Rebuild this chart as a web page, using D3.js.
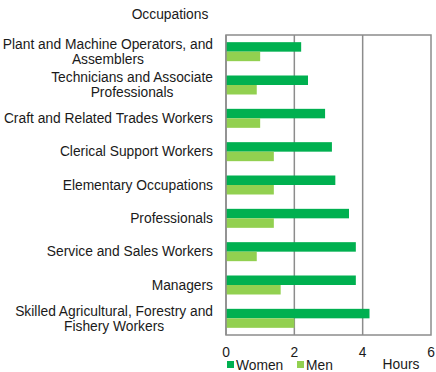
<!DOCTYPE html>
<html>
<head>
<meta charset="utf-8">
<script src="https://cdn.jsdelivr.net/npm/d3@7"></script>
<style>
  html, body { margin: 0; padding: 0; background: #fff; }
  svg { display: block; font-family: "Liberation Sans", Arial, sans-serif; }
</style>
</head>
<body>
<svg id="chart" width="436" height="372"></svg>
<script>
// Occupations, top to bottom, each split into display lines
const occupations = [
  ["Plant and Machine Operators, and", "Assemblers"],
  ["Technicians and Associate", "Professionals"],
  ["Craft and Related Trades Workers"],
  ["Clerical Support Workers"],
  ["Elementary Occupations"],
  ["Professionals"],
  ["Service and Sales Workers"],
  ["Managers"],
  ["Skilled Agricultural, Forestry and", "Fishery Workers"]
];
const women = [2.2, 2.4, 2.9, 3.1, 3.2, 3.6, 3.8, 3.8, 4.2];
const men   = [1.0, 0.9, 1.0, 1.4, 1.4, 1.4, 0.9, 1.6, 2.0];
const seriesNames = ["Women", "Men"];
const seriesColors = ["#00b050", "#92d050"];
const xTicks = [0, 2, 4, 6];

const svg = d3.select("#chart");
const plot = { left: 226, right: 431, top: 35, bottom: 335 };

const x = d3.scaleLinear().domain([0, 6]).range([plot.left, plot.right]);
const y = d3.scaleBand().domain(d3.range(occupations.length))
  .range([plot.top, plot.bottom]).paddingInner(0.43).paddingOuter(0.215);
const sub = d3.scaleBand().domain([0, 1]).range([0, y.bandwidth()]);

// Frame and vertical gridlines
svg.append("rect")
  .attr("x", plot.left).attr("y", plot.top)
  .attr("width", plot.right - plot.left).attr("height", plot.bottom - plot.top)
  .attr("fill", "none").attr("stroke", "#8c8c8c").attr("stroke-width", 1.5);
svg.append("g").selectAll("line").data(xTicks.slice(1, -1)).join("line")
  .attr("x1", d => x(d)).attr("x2", d => x(d))
  .attr("y1", plot.top).attr("y2", plot.bottom)
  .attr("stroke", "#8c8c8c").attr("stroke-width", 1.5);

// Bars
const series = [women, men];
series.forEach((vals, si) => {
  svg.append("g").selectAll("rect").data(vals).join("rect")
    .attr("x", x(0))
    .attr("y", (d, i) => y(i) + sub(si))
    .attr("width", d => x(d) - x(0))
    .attr("height", sub.bandwidth())
    .attr("fill", seriesColors[si]);
});

// Left axis line
svg.append("line")
  .attr("x1", plot.left).attr("x2", plot.left)
  .attr("y1", plot.top).attr("y2", plot.bottom)
  .attr("stroke", "#8c8c8c").attr("stroke-width", 1.5);

// Category labels: each block right-aligned, lines centred within the block
const labelRight = 213;
const lineH = 15;
const labelSize = 13.8;
const labels = svg.append("g").attr("font-size", labelSize).attr("fill", "#1a1a1a");
occupations.forEach((lines, i) => {
  const g = labels.append("g");
  const texts = lines.map((ln, j) => g.append("text")
    .attr("text-anchor", "middle")
    .attr("y", y(i) + y.bandwidth() / 2 + (j - (lines.length - 1) / 2) * lineH)
    .attr("dy", "0.35em")
    .text(ln));
  const maxW = d3.max(texts, t => t.node().getComputedTextLength());
  texts.forEach(t => t.attr("x", labelRight - maxW / 2));
});

// Axis title for categories
svg.append("text").attr("x", 170).attr("y", 14).attr("dy", "0.35em")
  .attr("text-anchor", "middle").attr("font-size", labelSize).attr("fill", "#1a1a1a")
  .text("Occupations");

// X tick labels
svg.append("g").selectAll("text").data(xTicks).join("text")
  .attr("x", d => x(d)).attr("y", 352).attr("dy", "0.35em")
  .attr("text-anchor", "middle").attr("font-size", labelSize).attr("fill", "#1a1a1a")
  .text(d => d);

// X axis title
svg.append("text").attr("x", 401).attr("y", 364).attr("dy", "0.35em")
  .attr("text-anchor", "middle").attr("font-size", labelSize).attr("fill", "#1a1a1a")
  .text("Hours");

// Legend
const legendX = [227, 297];
const legend = svg.append("g");
seriesNames.forEach((name, i) => {
  legend.append("rect").attr("x", legendX[i]).attr("y", 361)
    .attr("width", 7).attr("height", 7).attr("fill", seriesColors[i]);
  legend.append("text").attr("x", legendX[i] + 9).attr("y", 365).attr("dy", "0.35em")
    .attr("font-size", labelSize).attr("fill", "#1a1a1a").text(name);
});
</script>
</body>
</html>
